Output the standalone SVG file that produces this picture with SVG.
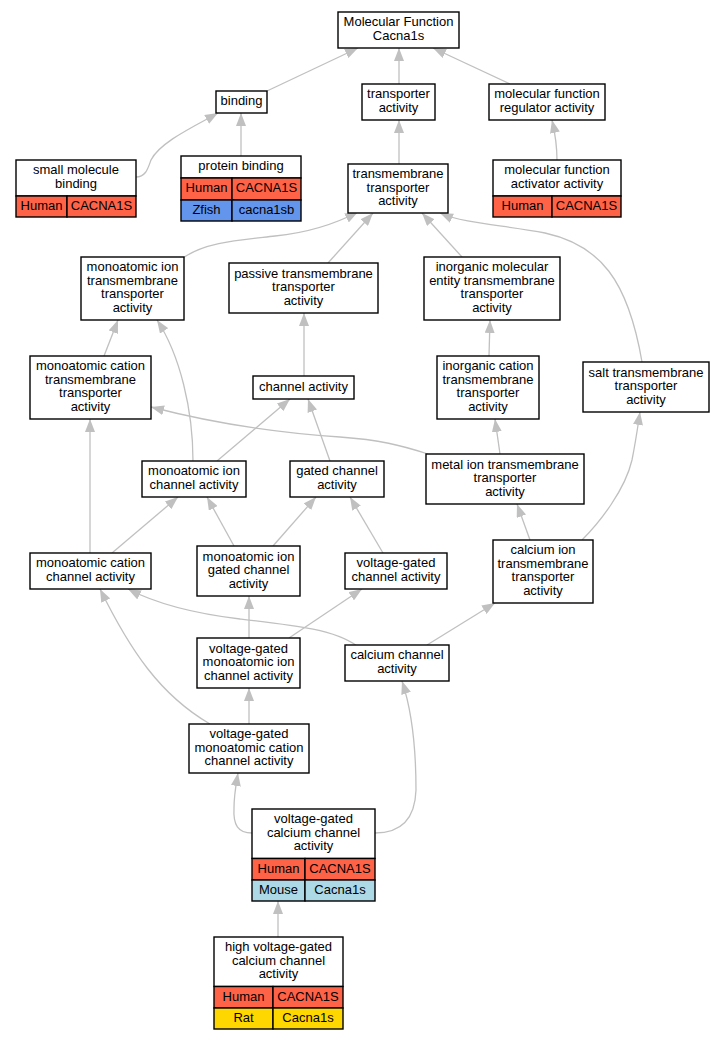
<svg xmlns="http://www.w3.org/2000/svg" width="725" height="1040" viewBox="0 0 725 1040">
<style>
text{font-family:"Liberation Sans",Arial,Helvetica,sans-serif;font-size:13px;text-anchor:middle;fill:#000}
.n rect{fill:#fff;stroke:#000;stroke-width:1.4}
.n rect.hu{fill:#ff6347}
.n rect.zf{fill:#6495ed}
.n rect.mo{fill:#add8e6}
.n rect.ra{fill:#ffd700}
.e path{fill:none;stroke:#c0c0c0;stroke-width:1.3;marker-end:url(#ah)}
</style>
<defs>
<marker id="ah" markerUnits="userSpaceOnUse" markerWidth="13" markerHeight="10" refX="13" refY="5" orient="auto" viewBox="0 0 13 10"><path d="M0,0 L13,5 L0,10 z" fill="#c0c0c0"/></marker>
</defs>
<rect width="725" height="1040" fill="#fff"/>
<g class="e" id="edges">
<path d="M267,91 L358,48"/>
<path d="M399,84 L399,48"/>
<path d="M510,84 L433,48"/>
<path d="M136,177 C146,177 148,168 151,160 C160,142 195,126 218,113"/>
<path d="M241,156 L241,113"/>
<path d="M557,160 C557,145 555,133 552,120"/>
<path d="M399,164 L399,120"/>
<path d="M183,258 C205,242 240,240 275,236 C305,233 335,224 358,212"/>
<path d="M328,263 L373,213"/>
<path d="M462,257 L422,213"/>
<path d="M642,362 C628,280 600,245 545,233 C505,225 465,224 440,213"/>
<path d="M104,356 L118,320"/>
<path d="M193,461 C193,410 180,355 157,320"/>
<path d="M304,376 L304,313"/>
<path d="M217,461 L290,399"/>
<path d="M330,461 L308,399"/>
<path d="M489,356 L490,320"/>
<path d="M428,454 C400,445 380,440 340,437 C280,433 220,425 151,407"/>
<path d="M500,454 L495,419"/>
<path d="M90,553 L90,419"/>
<path d="M112,553 L178,497"/>
<path d="M234,546 L207,497"/>
<path d="M273,546 L316,497"/>
<path d="M383,553 L350,497"/>
<path d="M530,540 L517,504"/>
<path d="M582,540 C600,522 625,490 632,460 C636,440 638,425 640,412"/>
<path d="M249,638 L249,596"/>
<path d="M289,638 L362,589"/>
<path d="M357,646 C335,630 300,626 240,619 C190,613 155,603 128,589"/>
<path d="M210,724 C160,695 130,650 100,589"/>
<path d="M249,724 L249,688"/>
<path d="M427,645 L495,603"/>
<path d="M252,833 C238,833 233,825 234,808 C234,795 236,785 238,773"/>
<path d="M375,833 C400,833 415,820 416,790 C416,740 410,705 402,681"/>
<path d="M278,937 L278,901"/>
</g>
<g class="n" id="mf"><rect x="338" y="12" width="121" height="36"/><text x="398.5" y="26.25">Molecular Function</text><text x="398.5" y="39.75">Cacna1s</text></g>
<g class="n" id="binding"><rect x="216" y="91" width="51" height="22"/><text x="241.5" y="105">binding</text></g>
<g class="n" id="transporter"><rect x="362" y="84" width="73" height="36"/><text x="398.5" y="98.25">transporter</text><text x="398.5" y="111.75">activity</text></g>
<g class="n" id="regulator"><rect x="489" y="84" width="116" height="36"/><text x="547" y="98.25">molecular function</text><text x="547" y="111.75">regulator activity</text></g>
<g class="n" id="smb"><rect x="16" y="160" width="120" height="36"/><text x="76" y="174.25">small molecule</text><text x="76" y="187.75">binding</text><rect class="hu" x="16" y="196" width="51" height="21"/><rect class="hu" x="67" y="196" width="69" height="21"/><text x="41.5" y="209.5">Human</text><text x="101.5" y="209.5">CACNA1S</text></g>
<g class="n" id="pb"><rect x="181" y="156" width="120" height="22"/><text x="241" y="170">protein binding</text><rect class="hu" x="181" y="178" width="51" height="22"/><rect class="hu" x="232" y="178" width="69" height="22"/><text x="206.5" y="192">Human</text><text x="266.5" y="192">CACNA1S</text><rect class="zf" x="181" y="200" width="51" height="21"/><rect class="zf" x="232" y="200" width="69" height="21"/><text x="206.5" y="213.5">Zfish</text><text x="266.5" y="213.5">cacna1sb</text></g>
<g class="n" id="tmt"><rect x="348" y="164" width="100" height="49"/><text x="398" y="178">transmembrane</text><text x="398" y="191.5">transporter</text><text x="398" y="205">activity</text></g>
<g class="n" id="activator"><rect x="493" y="160" width="128" height="36"/><text x="557" y="174.25">molecular function</text><text x="557" y="187.75">activator activity</text><rect class="hu" x="493" y="196" width="59" height="21"/><rect class="hu" x="552" y="196" width="69" height="21"/><text x="522.5" y="209.5">Human</text><text x="586.5" y="209.5">CACNA1S</text></g>
<g class="n" id="mit"><rect x="81" y="257" width="103" height="63"/><text x="132.5" y="271.25">monoatomic ion</text><text x="132.5" y="284.75">transmembrane</text><text x="132.5" y="298.25">transporter</text><text x="132.5" y="311.75">activity</text></g>
<g class="n" id="passive"><rect x="229" y="263" width="149" height="50"/><text x="303.5" y="277.5">passive transmembrane</text><text x="303.5" y="291">transporter</text><text x="303.5" y="304.5">activity</text></g>
<g class="n" id="imet"><rect x="424" y="257" width="136" height="63"/><text x="492" y="271.25">inorganic molecular</text><text x="492" y="284.75">entity transmembrane</text><text x="492" y="298.25">transporter</text><text x="492" y="311.75">activity</text></g>
<g class="n" id="mct"><rect x="30" y="356" width="121" height="63"/><text x="90.5" y="370.25">monoatomic cation</text><text x="90.5" y="383.75">transmembrane</text><text x="90.5" y="397.25">transporter</text><text x="90.5" y="410.75">activity</text></g>
<g class="n" id="channel"><rect x="253" y="376" width="101" height="23"/><text x="303.5" y="390.5">channel activity</text></g>
<g class="n" id="ict"><rect x="437" y="356" width="102" height="63"/><text x="488" y="370.25">inorganic cation</text><text x="488" y="383.75">transmembrane</text><text x="488" y="397.25">transporter</text><text x="488" y="410.75">activity</text></g>
<g class="n" id="salt"><rect x="583" y="362" width="126" height="50"/><text x="646" y="376.5">salt transmembrane</text><text x="646" y="390">transporter</text><text x="646" y="403.5">activity</text></g>
<g class="n" id="mic"><rect x="142" y="461" width="104" height="36"/><text x="194" y="475.25">monoatomic ion</text><text x="194" y="488.75">channel activity</text></g>
<g class="n" id="gated"><rect x="290" y="461" width="94" height="36"/><text x="337" y="475.25">gated channel</text><text x="337" y="488.75">activity</text></g>
<g class="n" id="metal"><rect x="426" y="454" width="158" height="50"/><text x="505" y="468.5">metal ion transmembrane</text><text x="505" y="482">transporter</text><text x="505" y="495.5">activity</text></g>
<g class="n" id="mcc"><rect x="30" y="553" width="121" height="36"/><text x="90.5" y="567.25">monoatomic cation</text><text x="90.5" y="580.75">channel activity</text></g>
<g class="n" id="migc"><rect x="197" y="546" width="103" height="50"/><text x="248.5" y="560.5">monoatomic ion</text><text x="248.5" y="574">gated channel</text><text x="248.5" y="587.5">activity</text></g>
<g class="n" id="vgc"><rect x="345" y="553" width="102" height="36"/><text x="396" y="567.25">voltage-gated</text><text x="396" y="580.75">channel activity</text></g>
<g class="n" id="cit"><rect x="493" y="540" width="100" height="63"/><text x="543" y="554.25">calcium ion</text><text x="543" y="567.75">transmembrane</text><text x="543" y="581.25">transporter</text><text x="543" y="594.75">activity</text></g>
<g class="n" id="vgmic"><rect x="197" y="638" width="103" height="50"/><text x="248.5" y="652.5">voltage-gated</text><text x="248.5" y="666">monoatomic ion</text><text x="248.5" y="679.5">channel activity</text></g>
<g class="n" id="cc"><rect x="345" y="645" width="104" height="36"/><text x="397" y="659.25">calcium channel</text><text x="397" y="672.75">activity</text></g>
<g class="n" id="vgmcc"><rect x="189" y="724" width="120" height="49"/><text x="249" y="738">voltage-gated</text><text x="249" y="751.5">monoatomic cation</text><text x="249" y="765">channel activity</text></g>
<g class="n" id="vgcc"><rect x="252" y="809" width="123" height="49.5"/><text x="313.5" y="823.25">voltage-gated</text><text x="313.5" y="836.75">calcium channel</text><text x="313.5" y="850.25">activity</text><rect class="hu" x="252" y="858.5" width="53" height="21.5"/><rect class="hu" x="305" y="858.5" width="70" height="21.5"/><text x="278.5" y="872.75">Human</text><text x="340" y="872.75">CACNA1S</text><rect class="mo" x="252" y="880" width="53" height="21"/><rect class="mo" x="305" y="880" width="70" height="21"/><text x="278.5" y="894">Mouse</text><text x="340" y="894">Cacna1s</text></g>
<g class="n" id="hvgcc"><rect x="214" y="937" width="129" height="49.5"/><text x="278.5" y="951.25">high voltage-gated</text><text x="278.5" y="964.75">calcium channel</text><text x="278.5" y="978.25">activity</text><rect class="hu" x="214" y="986.5" width="59" height="21.5"/><rect class="hu" x="273" y="986.5" width="70" height="21.5"/><text x="243.5" y="1000.75">Human</text><text x="308" y="1000.75">CACNA1S</text><rect class="ra" x="214" y="1008" width="59" height="21"/><rect class="ra" x="273" y="1008" width="70" height="21"/><text x="243.5" y="1022">Rat</text><text x="308" y="1022">Cacna1s</text></g>
</svg>
